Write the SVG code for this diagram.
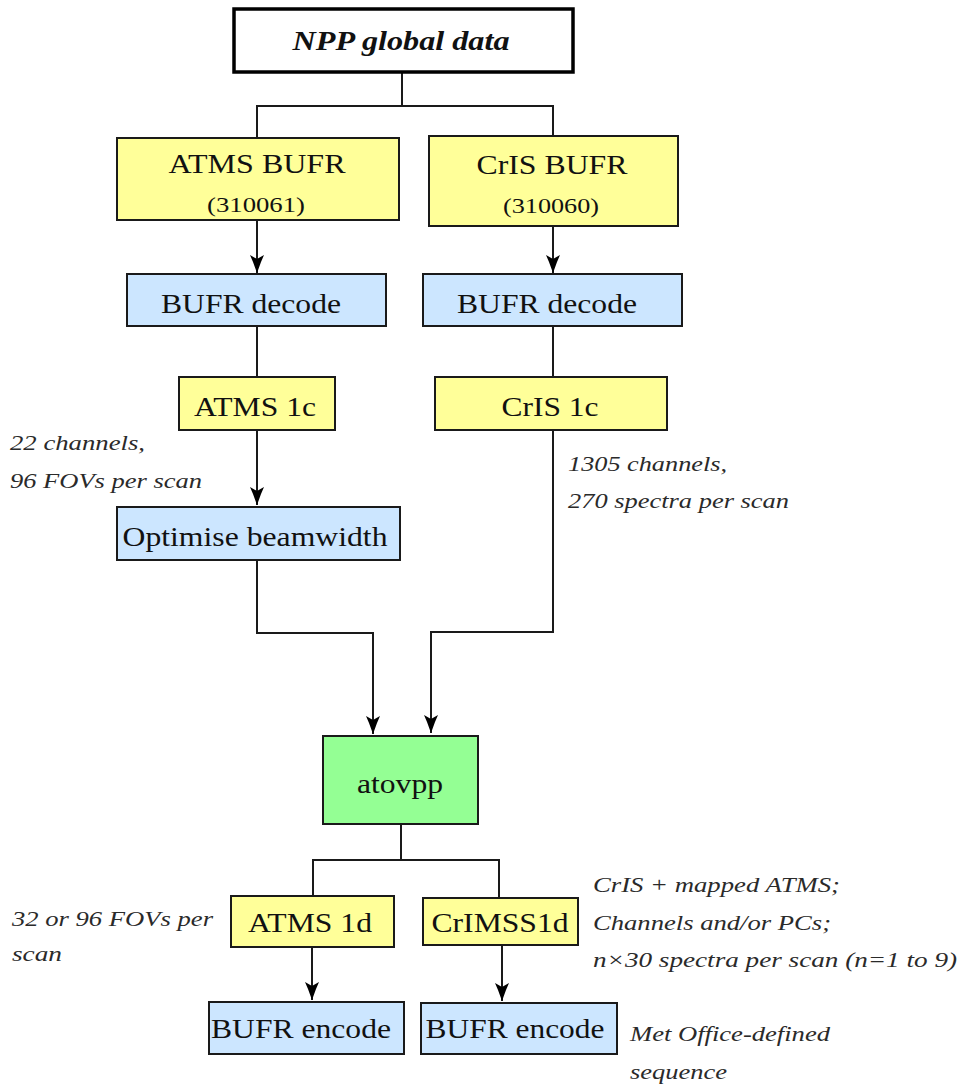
<svg xmlns="http://www.w3.org/2000/svg" width="960" height="1091" viewBox="0 0 960 1091">
<style>
.box{stroke:#1a1a1a;stroke-width:2}
.y{fill:#ffff99}
.b{fill:#cce6ff}
.g{fill:#94ff94}
.t{font-family:"Liberation Serif","Times New Roman",Times,"Nimbus Roman",serif;fill:#111;text-anchor:middle;font-size:27px}
.s{font-size:22px}
.a{font-family:"Liberation Serif","Times New Roman",Times,"Nimbus Roman",serif;font-style:italic;fill:#2a2a2a;font-size:22px}
.c{fill:none;stroke:#1a1a1a;stroke-width:2}
</style>
<defs>
<marker id="ah" viewBox="0 0 18 14" refX="18" refY="7" markerWidth="18" markerHeight="14" markerUnits="userSpaceOnUse" orient="auto">
<path d="M0,0 L7,3 L18,7 L7,11 L0,14 L4,7 z" fill="#000"/>
</marker>
</defs>
<rect width="960" height="1091" fill="#fff"/>
<g id="connectors">
<path class="c" d="M402,73 V106 M256,106 H554 M257,106 V138 M553,106 V136"/>
<path class="c" d="M257,220 V273" marker-end="url(#ah)"/>
<path class="c" d="M553,226 V273" marker-end="url(#ah)"/>
<path class="c" d="M257,326 V377"/>
<path class="c" d="M553,326 V377"/>
<path class="c" d="M257,430 V505" marker-end="url(#ah)"/>
<path class="c" d="M257,560 V633 H373 V734" marker-end="url(#ah)"/>
<path class="c" d="M553,430 V632 H431 V733" marker-end="url(#ah)"/>
<path class="c" d="M401,824 V860 M312,860 H500 M313,860 V896 M499,860 V898"/>
<path class="c" d="M312,947 V1000" marker-end="url(#ah)"/>
<path class="c" d="M502,945 V1001" marker-end="url(#ah)"/>
</g>
<g id="npp">
<rect x="234" y="9" width="339" height="63" fill="#fff" stroke="#000" stroke-width="3.5"/>
<text class="t" x="401" y="50" font-weight="bold" font-style="italic" textLength="217" lengthAdjust="spacingAndGlyphs">NPP global data</text>
</g>
<g id="atms-bufr">
<rect class="box y" x="117" y="138" width="282" height="82"/>
<text class="t" x="257" y="173" textLength="177" lengthAdjust="spacingAndGlyphs">ATMS BUFR</text>
<text class="t s" x="256" y="212" textLength="98" lengthAdjust="spacingAndGlyphs">(310061)</text>
</g>
<g id="cris-bufr">
<rect class="box y" x="429" y="136" width="249" height="90"/>
<text class="t" x="552" y="174" textLength="151" lengthAdjust="spacingAndGlyphs">CrIS BUFR</text>
<text class="t s" x="551" y="213" textLength="96" lengthAdjust="spacingAndGlyphs">(310060)</text>
</g>
<g id="atms-decode">
<rect class="box b" x="127" y="274" width="259" height="52"/>
<text class="t" x="251" y="313" textLength="180" lengthAdjust="spacingAndGlyphs">BUFR decode</text>
</g>
<g id="cris-decode">
<rect class="box b" x="423" y="274" width="259" height="52"/>
<text class="t" x="547" y="313" textLength="180" lengthAdjust="spacingAndGlyphs">BUFR decode</text>
</g>
<g id="atms-1c">
<rect class="box y" x="179" y="377" width="156" height="53"/>
<text class="t" x="255" y="416" textLength="122" lengthAdjust="spacingAndGlyphs">ATMS 1c</text>
</g>
<g id="cris-1c">
<rect class="box y" x="435" y="377" width="232" height="53"/>
<text class="t" x="550" y="416" textLength="97" lengthAdjust="spacingAndGlyphs">CrIS 1c</text>
</g>
<g id="optimise">
<rect class="box b" x="117" y="507" width="283" height="53"/>
<text class="t" x="255" y="546" textLength="265" lengthAdjust="spacingAndGlyphs">Optimise beamwidth</text>
</g>
<g id="atovpp">
<rect class="box g" x="323" y="736" width="155" height="88"/>
<text class="t" x="400" y="793" textLength="86" lengthAdjust="spacingAndGlyphs">atovpp</text>
</g>
<g id="atms-1d">
<rect class="box y" x="231" y="896" width="163" height="51"/>
<text class="t" x="310" y="932" textLength="124" lengthAdjust="spacingAndGlyphs">ATMS 1d</text>
</g>
<g id="crimss-1d">
<rect class="box y" x="423" y="898" width="155" height="47"/>
<text class="t" x="500" y="932" textLength="137" lengthAdjust="spacingAndGlyphs">CrIMSS1d</text>
</g>
<g id="atms-encode">
<rect class="box b" x="209" y="1002" width="195" height="52"/>
<text class="t" x="301" y="1038" textLength="180" lengthAdjust="spacingAndGlyphs">BUFR encode</text>
</g>
<g id="crimss-encode">
<rect class="box b" x="421" y="1003" width="196" height="51"/>
<text class="t" x="515" y="1038" textLength="179" lengthAdjust="spacingAndGlyphs">BUFR encode</text>
</g>
<g id="annotations">
<text class="a" x="10" y="450" textLength="135" lengthAdjust="spacingAndGlyphs">22 channels,</text>
<text class="a" x="10" y="488" textLength="192" lengthAdjust="spacingAndGlyphs">96 FOVs per scan</text>
<text class="a" x="568" y="471" textLength="159" lengthAdjust="spacingAndGlyphs">1305 channels,</text>
<text class="a" x="568" y="508" textLength="221" lengthAdjust="spacingAndGlyphs">270 spectra per scan</text>
<text class="a" x="12" y="926" textLength="201" lengthAdjust="spacingAndGlyphs">32 or 96 FOVs per</text>
<text class="a" x="12" y="961" textLength="50" lengthAdjust="spacingAndGlyphs">scan</text>
<text class="a" x="593" y="892" textLength="247" lengthAdjust="spacingAndGlyphs">CrIS + mapped ATMS;</text>
<text class="a" x="593" y="930" textLength="238" lengthAdjust="spacingAndGlyphs">Channels and/or PCs;</text>
<text class="a" x="593" y="967" textLength="364" lengthAdjust="spacingAndGlyphs">n×30  spectra per scan (n=1 to 9)</text>
<text class="a" x="630" y="1041" textLength="200" lengthAdjust="spacingAndGlyphs">Met Office-defined</text>
<text class="a" x="630" y="1079" textLength="97" lengthAdjust="spacingAndGlyphs">sequence</text>
</g>
</svg>
